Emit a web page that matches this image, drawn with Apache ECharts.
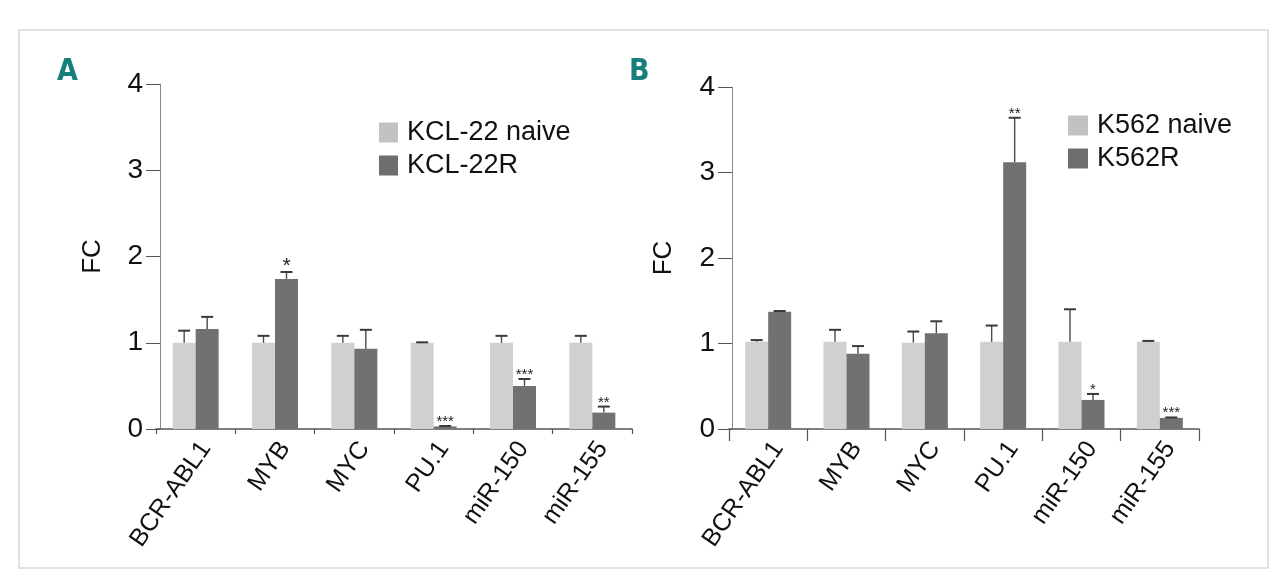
<!DOCTYPE html>
<html>
<head>
<meta charset="utf-8">
<script src="https://cdn.jsdelivr.net/npm/echarts@6/dist/echarts.min.js"></script>
<style>html,body{margin:0;padding:0;background:#fff;}#c{width:1280px;height:579px;}</style>
</head>
<body>
<div id="c"></div>
<script>
// ---- data ----
const categories = ['BCR-ABL1', 'MYB', 'MYC', 'PU.1', 'miR-150', 'miR-155'];
const yTicks = [0, 1, 2, 3, 4];

const kclNaive    = [1.00, 1.00, 1.00, 1.00, 1.00, 1.00];
const kclNaiveErr = [1.14, 1.08, 1.08, 1.005, 1.08, 1.08];
const kclR        = [1.16, 1.74, 0.93, 0.03, 0.50, 0.19];
const kclRErr     = [1.30, 1.82, 1.15, 0.035, 0.58, 0.26];
const kclRSig     = ['', '*', '', '***', '***', '**'];

const k562Naive    = [1.02, 1.02, 1.01, 1.02, 1.02, 1.02];
const k562NaiveErr = [1.04, 1.16, 1.14, 1.21, 1.40, 1.03];
const k562R        = [1.37, 0.88, 1.12, 3.12, 0.34, 0.13];
const k562RErr     = [1.38, 0.97, 1.26, 3.64, 0.41, 0.135];
const k562RSig     = ['', '', '', '**', '*', '***'];

// ---- styles ----
const LIGHT = '#d0d0d0', DARK = '#717171';
const LEG_LIGHT = '#c2c2c2', LEG_DARK = '#6e6e6e';
const BW = 23;
const FONT = '"Liberation Sans", Arial, sans-serif';

function errSeries(gi, vals, errs, sigs, offset, starSize) {
  return {
    type: 'custom', xAxisIndex: gi, yAxisIndex: gi, z: 5, silent: true,
    data: vals.map((v, i) => [i, v, errs[i]]),
    renderItem: function (params, api) {
      const i = api.value(0);
      const p = api.coord([i, api.value(1)]);
      const pe = api.coord([i, api.value(2)]);
      const cx = p[0] + offset;
      const children = [
        { type: 'line', shape: { x1: cx, y1: p[1], x2: cx, y2: pe[1] }, style: { stroke: '#4a4a4a', lineWidth: 1.4 } },
        { type: 'line', shape: { x1: cx - 6, y1: pe[1], x2: cx + 6, y2: pe[1] }, style: { stroke: '#3a3a3a', lineWidth: 2 } }
      ];
      const s = sigs ? sigs[params.dataIndex] : '';
      if (s) {
        const fs = (s === '*' && starSize.single) ? starSize.single : starSize.base;
        children.push({ type: 'text', style: { text: s, x: cx, y: pe[1] + fs * 0.22, align: 'center', verticalAlign: 'bottom', fontSize: fs, fontFamily: FONT, fill: '#222' } });
      }
      return { type: 'group', children: children };
    }
  };
}

function xAx(gi, tickLen) {
  return {
    type: 'category', gridIndex: gi, data: categories,
    axisLine: { show: true, lineStyle: { color: '#555', width: 1.6 } },
    axisTick: { show: true, length: tickLen, lineStyle: { color: '#555', width: 1.2 } },
    axisLabel: { interval: 0, rotate: 55, fontSize: 25, color: '#111', fontFamily: FONT, margin: 8, verticalAlign: 'top' }
  };
}
function yAx(gi, gap, off) {
  return {
    type: 'value', gridIndex: gi, min: yTicks[0], max: yTicks[yTicks.length - 1], interval: 1, offset: off,
    name: 'FC', nameLocation: 'middle', nameRotate: 90, nameGap: gap,
    nameTextStyle: { fontSize: 26, color: '#111', fontFamily: FONT },
    axisLine: { show: true, lineStyle: { color: '#888', width: 1 } },
    axisTick: { show: true, length: 14, lineStyle: { color: '#555', width: 1 } },
    axisLabel: { fontSize: 28, color: '#111', fontFamily: FONT, margin: 17 },
    splitLine: { show: false }
  };
}

const option = {
  animation: false,
  backgroundColor: '#fff',
  graphic: [
    { type: 'rect', shape: { x: 19, y: 30, width: 1249, height: 538 }, style: { fill: 'none', stroke: '#d9d9d9', lineWidth: 1.5 } },
    { type: 'text', left: 57, top: 57, style: { text: 'A', fontSize: 30, fontWeight: 'bold', fontFamily: '"Liberation Sans Narrow", "DejaVu Sans Condensed", sans-serif', fill: '#167f7c' } },
    { type: 'text', left: 629, top: 57, style: { text: 'B', fontSize: 30, fontWeight: 'bold', fontFamily: '"Liberation Sans Narrow", "DejaVu Sans Condensed", sans-serif', fill: '#167f7c' } }
  ],
  legend: [
    { orient: 'vertical', left: 374, top: 114, itemWidth: 19, itemHeight: 20, itemGap: 6, icon: 'rect',
      textStyle: { fontSize: 27, color: '#111', fontFamily: FONT, padding: [0, 0, 0, 4] },
      data: [{ name: 'KCL-22 naive', itemStyle: { color: LEG_LIGHT } }, { name: 'KCL-22R', itemStyle: { color: LEG_DARK } }] },
    { orient: 'vertical', left: 1063, top: 107, itemWidth: 20, itemHeight: 20, itemGap: 6, icon: 'rect',
      textStyle: { fontSize: 27, color: '#111', fontFamily: FONT, padding: [0, 0, 0, 4] },
      data: [{ name: 'K562 naive', itemStyle: { color: LEG_LIGHT } }, { name: 'K562R', itemStyle: { color: LEG_DARK } }] }
  ],
  grid: [
    { left: 156, top: 84, width: 476, height: 345 },
    { left: 729, top: 87, width: 470, height: 342 }
  ],
  xAxis: [xAx(0, 5), xAx(1, 12)],
  yAxis: [yAx(0, 54, -4), yAx(1, 55, -3)],
  series: [
    { name: 'KCL-22 naive', type: 'bar', xAxisIndex: 0, yAxisIndex: 0, data: kclNaive, barWidth: BW, barGap: '0%', itemStyle: { color: LIGHT } },
    { name: 'KCL-22R', type: 'bar', xAxisIndex: 0, yAxisIndex: 0, data: kclR, barWidth: BW, barGap: '0%', itemStyle: { color: DARK } },
    { name: 'K562 naive', type: 'bar', xAxisIndex: 1, yAxisIndex: 1, data: k562Naive, barWidth: BW, barGap: '0%', itemStyle: { color: LIGHT } },
    { name: 'K562R', type: 'bar', xAxisIndex: 1, yAxisIndex: 1, data: k562R, barWidth: BW, barGap: '0%', itemStyle: { color: DARK } },
    errSeries(0, kclNaive, kclNaiveErr, null, -BW / 2, { base: 15 }),
    errSeries(0, kclR, kclRErr, kclRSig, BW / 2, { base: 15, single: 21 }),
    errSeries(1, k562Naive, k562NaiveErr, null, -BW / 2, { base: 15 }),
    errSeries(1, k562R, k562RErr, k562RSig, BW / 2, { base: 15 })
  ]
};

const chart = echarts.init(document.getElementById('c'), null, { renderer: 'canvas' });
chart.setOption(option);
</script>
</body>
</html>
